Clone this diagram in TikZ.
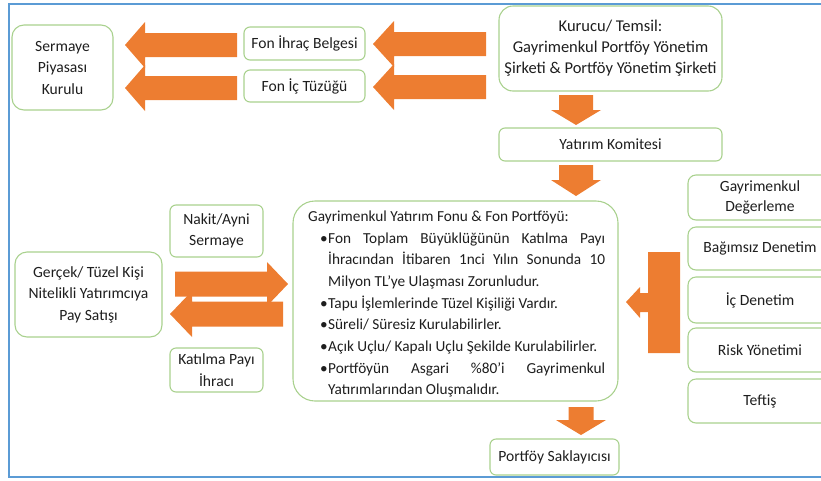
\documentclass[tikz,border=0pt]{standalone}
\usepackage{fontspec}
\setmainfont{Carlito}
\definecolor{boxgreen}{HTML}{A9D18E}
\definecolor{arroworange}{HTML}{ED7D31}
\definecolor{frameblue}{HTML}{5B9BD5}
\definecolor{txt}{HTML}{1E1E1E}

% horizontal block arrow: tail x, head base x, tip x, centre y, shaft half-height, head half-height
\newcommand\hblock[6]{%
  \fill[blockarrow] (#1,{#4-#5}) -- (#2,{#4-#5}) -- (#2,{#4-#6}) -- (#3,#4)
    -- (#2,{#4+#6}) -- (#2,{#4+#5}) -- (#1,{#4+#5}) -- cycle;}
% vertical block arrow: tail y, head base y, tip y, centre x, shaft half-width, head half-width
\newcommand\vblock[6]{%
  \fill[blockarrow] ({#4-#5},#1) -- ({#4-#5},#2) -- ({#4-#6},#2) -- (#4,#3)
    -- ({#4+#6},#2) -- ({#4+#5},#2) -- ({#4+#5},#1) -- cycle;}
% one bulleted entry with a hanging indent
\newcommand\fonitem{\par\hangindent=20pt\hangafter=1\noindent\hbox to 20pt{\hskip 12pt•\hfil}}

\begin{document}
\begin{tikzpicture}[x=1pt,y=-1pt,
  box/.style={draw=boxgreen, line width=1.1pt, rounded corners=#1, align=center,
    inner sep=2pt, text=txt, font=\fontsize{15.6}{21.5}\selectfont},
  box/.default=6pt,
  blockarrow/.style={fill=arroworange}]

\useasboundingbox (0,0) rectangle (821,480);
\clip (0,0) rectangle (821,480);

% outer frame (open on the right)
\draw[frameblue, line width=2.5pt] (821,4) -- (9,4) -- (9,477) -- (821,477);

% top row
\node[box=12pt, minimum width=101pt, minimum height=85pt] (spk) at (62.5,67.5)
  {Sermaye\\Piyasası\\Kurulu};
\node[box=6pt, minimum width=121pt, minimum height=33pt] (fib) at (304.5,43.5)
  {Fon İhraç Belgesi};
\node[box=6pt, minimum width=121pt, minimum height=32pt] (fit) at (304.5,86)
  {Fon İç Tüzüğü};
\node[box=14pt, minimum width=223pt, minimum height=85pt,
  font=\fontsize{16.5}{21}\selectfont] (kur) at (610.5,48.5)
  {Kurucu/ Temsil:\\Gayrimenkul Portföy Yönetim\\Şirketi \& Portföy Yönetim Şirketi};
\node[box=6pt, minimum width=223pt, minimum height=33pt] (yk) at (610.5,144.5)
  {Yatırım Komitesi};

% fund box and its text
\node[box=22pt, minimum width=325pt, minimum height=200pt] (fon) at (455.5,301) {};
\node[anchor=north west, inner sep=0pt, text width=297pt, align=justify, text=txt,
  font=\fontsize{15.3}{21.7}\selectfont] (fontext) at (308,210.5)
  {\hyphenpenalty=10000 \noindent Gayrimenkul Yatırım Fonu \& Fon Portföyü:%
   \fonitem Fon Toplam Büyüklüğünün Katılma Payı\linebreak
     İhracından İtibaren 1nci Yılın Sonunda 10\linebreak Milyon TL’ye Ulaşması Zorunludur.%
   \fonitem Tapu İşlemlerinde Tüzel Kişiliği Vardır.%
   \fonitem Süreli/ Süresiz Kurulabilirler.%
   \fonitem Açık Uçlu/ Kapalı Uçlu Şekilde Kurulabilirler.%
   \fonitem Portföyün Asgari \%80’i Gayrimenkul\linebreak
     Yatırımlarından Oluşmalıdır.\par};
\node[box=6pt, minimum width=129pt, minimum height=36pt] (ps) at (554.5,457)
  {Portföy Saklayıcısı};

% investor side
\node[box=12pt, minimum width=147pt, minimum height=85pt] (gtk) at (88.5,294.5)
  {Gerçek/ Tüzel Kişi\\Nitelikli Yatırımcıya\\Pay Satışı};
\node[box=6pt, minimum width=93pt, minimum height=52pt] (nak) at (216.5,231)
  {Nakit/Ayni\\Sermaye};
\node[box=6pt, minimum width=93pt, minimum height=44pt] (kpi) at (216.5,370)
  {Katılma Payı\\İhracı};

% control units
\node[box=8pt, minimum width=144pt, minimum height=45pt,
  font=\fontsize{15.6}{20}\selectfont] (gd) at (760,197.5)
  {Gayrimenkul\\Değerleme};
\node[box=8pt, minimum width=144pt, minimum height=43pt] (bd) at (760,248.5)
  {Bağımsız Denetim};
\node[box=8pt, minimum width=144pt, minimum height=46pt] (id) at (760,300)
  {İç Denetim};
\node[box=8pt, minimum width=144pt, minimum height=44pt] (ry) at (760,350)
  {Risk Yönetimi};
\node[box=8pt, minimum width=144pt, minimum height=44pt] (tf) at (760,401)
  {Teftiş};

% block arrows
\hblock{237}{145}{125}{45}{12}{23}
\hblock{237}{145}{125}{88}{12}{23}
\hblock{486}{394}{373}{44}{12}{23}
\hblock{486}{394}{373}{87}{12}{23}
\hblock{175}{267}{288}{284}{12.5}{22}
\hblock{283}{192}{170}{314}{12.5}{23}
\vblock{95}{110}{125}{576}{17}{25}
\vblock{165}{180}{196}{576}{17}{25}
\vblock{407}{420}{435}{581}{12.5}{25}

% collecting arrow from the control units
\fill[blockarrow] (626,302) -- (640,287) -- (640,293) -- (648,293) -- (648,252)
  -- (680,252) -- (680,353) -- (648,353) -- (648,312) -- (640,312) -- (640,318) -- cycle;

\end{tikzpicture}
\end{document}
